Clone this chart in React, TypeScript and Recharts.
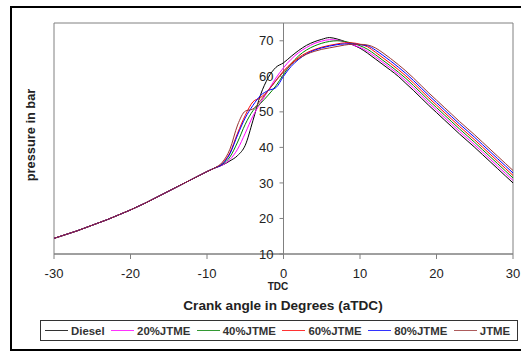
import React from 'react';
import { LineChart, Line, XAxis, YAxis, ReferenceLine, ReferenceArea } from 'recharts';

// crank angle, degrees aTDC
const angles = [
  -30, -29, -28, -27, -26, -25, -24, -23, -22, -21, -20, -19, -18, -17, -16, -15, -14, -13, -12, -11, -10, -9,
  -8, -7, -6, -5, -4, -3, -2, -1, 0, 1, 2, 3, 4, 5, 6, 7, 8, 9, 10, 11, 12, 13, 14, 15, 16, 17, 18, 19, 20,
  21, 22, 23, 24, 25, 26, 27, 28, 29, 30,
];

// compression stroke, same for every fuel (-30 .. -9)
const compression = [
  14.4, 15.1, 15.8, 16.5, 17.3, 18.1, 18.9, 19.7, 20.6, 21.5, 22.4, 23.4, 24.4, 25.5, 26.6, 27.7, 28.8, 29.9,
  31.0, 32.1, 33.2, 34.2,
];

// -8 .. 30
const diesel = [
  35.0, 36.2, 37.7, 40.6, 47.5, 54.8, 59.6, 62.5, 63.8, 65.6, 67.3, 68.7, 69.7, 70.4, 70.9, 70.5, 69.8, 68.9,
  67.9, 66.5, 64.9, 63.3, 61.7, 60.0, 58.0, 56.0, 53.9, 51.8, 49.8, 47.8, 45.8, 43.8, 41.9, 40.0, 38.0, 36.0,
  34.0, 32.0, 30.0,
];
const jtme20 = [
  35.0, 36.6, 39.5, 44.0, 48.8, 52.5, 56.0, 59.5, 62.4, 64.8, 66.7, 68.1, 69.2, 69.9, 70.3, 70.2, 69.7, 68.9,
  68.1, 67.0, 65.5, 63.9, 62.3, 60.6, 58.7, 56.7, 54.6, 52.5, 50.5, 48.5, 46.5, 44.5, 42.6, 40.7, 38.7, 36.7,
  34.7, 32.7, 30.7,
];
const jtme40 = [
  35.2, 37.3, 41.5, 46.5, 50.3, 52.4, 54.7, 57.3, 60.5, 63.5, 65.8, 67.4, 68.5, 69.3, 69.8, 70.0, 69.8, 69.3,
  68.6, 67.6, 66.1, 64.5, 62.9, 61.2, 59.4, 57.4, 55.3, 53.2, 51.2, 49.2, 47.2, 45.2, 43.3, 41.4, 39.4, 37.4,
  35.4, 33.4, 31.4,
];
const jtme60 = [
  35.5, 38.5, 44.0, 49.0, 52.8, 54.0, 56.0, 58.8, 61.5, 63.6, 65.3, 66.6, 67.5, 68.2, 68.7, 69.1, 69.4, 69.4,
  69.0, 68.3, 66.8, 65.2, 63.6, 61.9, 60.1, 58.1, 56.0, 53.9, 51.9, 49.9, 47.9, 45.9, 44.0, 42.1, 40.1, 38.1,
  36.1, 34.1, 32.1,
];
const jtme80 = [
  35.3, 38.2, 43.5, 48.3, 51.8, 54.6, 56.0, 56.8, 60.0, 62.8, 64.8, 66.3, 67.3, 68.0, 68.5, 68.9, 69.1, 69.1,
  68.9, 68.6, 67.4, 65.9, 64.3, 62.6, 60.8, 58.8, 56.7, 54.6, 52.6, 50.6, 48.6, 46.6, 44.7, 42.8, 40.8, 38.8,
  36.8, 34.8, 32.8,
];
const jtme100 = [
  35.8, 39.5, 46.3, 50.2, 50.8, 53.2, 56.0, 58.7, 61.2, 63.3, 65.0, 66.2, 67.0, 67.6, 68.0, 68.4, 68.8, 69.0,
  69.0, 68.8, 68.0, 66.6, 65.0, 63.3, 61.5, 59.5, 57.4, 55.3, 53.3, 51.3, 49.3, 47.3, 45.4, 43.5, 41.5, 39.5,
  37.5, 35.5, 33.5,
];

const xTicks = [-30, -20, -10, 0, 10, 20, 30];
const yTicks = [10, 20, 30, 40, 50, 60, 70];

const series = [
  { key: 'diesel', name: 'Diesel', color: '#000000', values: diesel },
  { key: 'j20', name: '20%JTME', color: '#ff00ff', values: jtme20 },
  { key: 'j40', name: '40%JTME', color: '#008000', values: jtme40 },
  { key: 'j60', name: '60%JTME', color: '#ff0000', values: jtme60 },
  { key: 'j80', name: '80%JTME', color: '#0000ff', values: jtme80 },
  { key: 'j100', name: 'JTME', color: '#993333', values: jtme100 },
];

const data = angles.map((angle, i) => {
  const row: Record<string, number> = { angle };
  series.forEach((s) => {
    row[s.key] = i < compression.length ? compression[i] : s.values[i - compression.length];
  });
  return row;
});

const FONT = '"Liberation Sans", Arial, sans-serif';
const PLOT_LEFT = 54;
const PLOT_W = 459;
const AXIS_X = PLOT_LEFT + PLOT_W / 2;

const YTick = (props: any) => {
  const { y, payload } = props;
  return (
    <g>
      <line x1={AXIS_X - 4} x2={AXIS_X} y1={y} y2={y} stroke="#808080" />
      <text x={AXIS_X - 10} y={y} dy={4.6} textAnchor="end" fontSize={13} fill="#222" fontFamily={FONT}>
        {payload.value}
      </text>
    </g>
  );
};

const App: React.FC = () => {
  return (
    <div style={{ position: 'absolute', left: 0, top: 0, width: 521, height: 351, background: '#fff', overflow: 'hidden', fontFamily: FONT }}>
      <div
        style={{
          position: 'absolute',
          left: 10,
          top: 6,
          width: 511,
          height: 345,
          borderLeft: '2px solid #000',
          borderTop: '2px solid #000',
          borderBottom: '2px solid #000',
          boxSizing: 'border-box',
        }}
      />

      <LineChart width={521} height={351} data={data} margin={{ top: 23, right: 8, bottom: 67, left: 0 }}>
        <ReferenceArea x1={-30} x2={30} y1={10} y2={75} fill="none" stroke="#808080" />
        <XAxis
          dataKey="angle"
          type="number"
          domain={[-30, 30]}
          ticks={xTicks}
          height={30}
          tickSize={5}
          tickMargin={10}
          stroke="#808080"
          tick={{ fontSize: 13, fill: '#222', fontFamily: FONT }}
        />
        <YAxis
          type="number"
          domain={[10, 75]}
          ticks={yTicks}
          width={PLOT_LEFT}
          axisLine={false}
          tickLine={false}
          tick={<YTick />}
          allowDataOverflow
        />
        <ReferenceLine x={0} stroke="#808080" />
        {series.map((s) => (
          <Line
            key={s.key}
            dataKey={s.key}
            name={s.name}
            type="monotone"
            stroke={s.color}
            strokeWidth={1}
            dot={false}
            isAnimationActive={false}
          />
        ))}
      </LineChart>

      <div style={{ position: 'absolute', left: 30, top: 135, transform: 'translate(-50%, -50%) rotate(-90deg)', fontSize: 12.8, fontWeight: 'bold', color: '#222', whiteSpace: 'nowrap' }}>
        pressure in bar
      </div>
      <div style={{ position: 'absolute', left: 278, top: 286, transform: 'translate(-50%, -50%)', fontSize: 10, fontWeight: 'bold', color: '#222' }}>
        TDC
      </div>
      <div style={{ position: 'absolute', left: 283, top: 305, transform: 'translate(-50%, -50%)', fontSize: 13.6, fontWeight: 'bold', color: '#222', whiteSpace: 'nowrap' }}>
        Crank angle in Degrees (aTDC)
      </div>

      <div style={{ position: 'absolute', left: 40, top: 320, width: 478, height: 21, border: '1px solid #333', boxSizing: 'border-box', display: 'flex', alignItems: 'center', paddingLeft: 4 }}>
        {series.map((s) => (
          <div key={s.key} style={{ display: 'flex', alignItems: 'center', marginRight: 6.5 }}>
            <div style={{ width: 23, height: 0, borderTop: `1.5px solid ${s.color}`, marginRight: 3, opacity: 0.8 }} />
            <span style={{ fontSize: 11.4, fontWeight: 'bold', color: '#333', whiteSpace: 'nowrap' }}>{s.name}</span>
          </div>
        ))}
      </div>
    </div>
  );
};

export default App;
